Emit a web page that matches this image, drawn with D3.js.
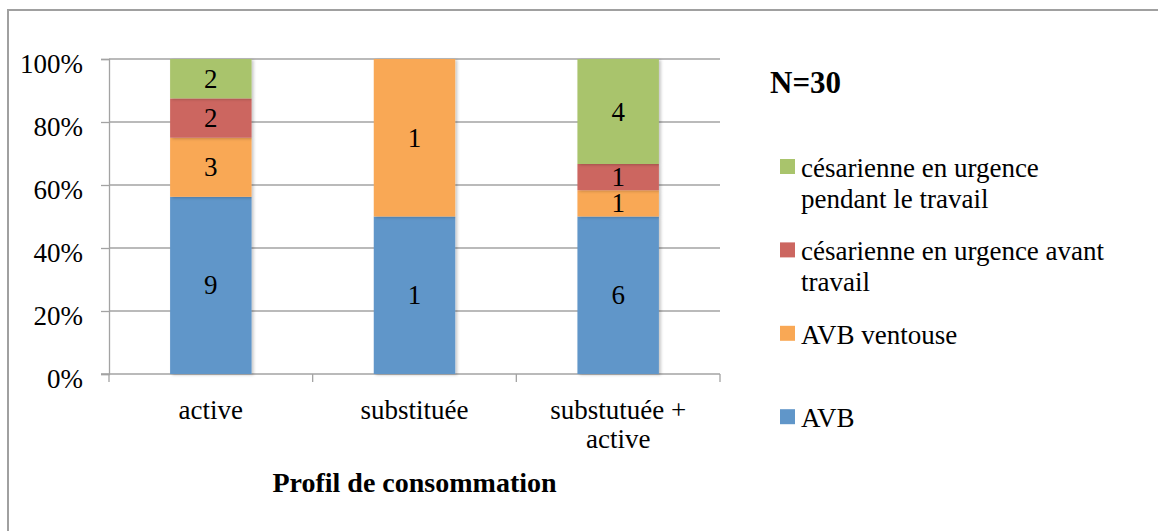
<!DOCTYPE html>
<html>
<head>
<meta charset="utf-8">
<script src="https://cdn.jsdelivr.net/npm/d3@7"></script>
<style>
  body { margin: 0; background: #fff; }
  svg { display: block; font-family: "Liberation Serif", "Times New Roman", serif; }
</style>
</head>
<body>
<div id="chart"></div>
<script>
// categories (x axis), one entry of lines per label
var categories = ["active", "substituée", "substutuée + active"];
var categoryLines = [["active"], ["substituée"], ["substutuée +", "active"]];

// counts per series, same order as categories
var avb        = [9, 1, 6];
var avbVentouse = [3, 1, 1];
var cesAvant   = [2, 0, 1];
var cesPendant = [2, 0, 4];

var seriesKeys = ["AVB", "AVB ventouse", "césarienne en urgence avant travail", "césarienne en urgence pendant le travail"];
var seriesColors = ["#6096c9", "#f9a855", "#cc6660", "#a9c46c"];
// legend text as Excel wrapped it
var legendLines = {
  "AVB": ["AVB"],
  "AVB ventouse": ["AVB ventouse"],
  "césarienne en urgence avant travail": ["césarienne en urgence avant", "travail"],
  "césarienne en urgence pendant le travail": ["césarienne en urgence", "pendant le travail"]
};
var yTicks = [0, 0.2, 0.4, 0.6, 0.8, 1];
var totalLabel = "N=30";
var xTitle = "Profil de consommation";

var W = 1158, H = 531;
var plot = {left: 109, right: 720, top: 59, bottom: 374};
var gridColor = "#a3a3a3";

// build rows for d3.stack
var rows = categories.map(function(c, i) {
  var r = {cat: c};
  r[seriesKeys[0]] = avb[i];
  r[seriesKeys[1]] = avbVentouse[i];
  r[seriesKeys[2]] = cesAvant[i];
  r[seriesKeys[3]] = cesPendant[i];
  return r;
});

var stacked = d3.stack().keys(seriesKeys).offset(d3.stackOffsetExpand)(rows);

var svg = d3.select("#chart").append("svg")
    .attr("width", W)
    .attr("height", H);

var defs = svg.append("defs");
var f = defs.append("filter").attr("id", "shadow")
    .attr("x", "-10%").attr("y", "-10%").attr("width", "130%").attr("height", "130%");
f.append("feDropShadow").attr("dx", 2).attr("dy", 1).attr("stdDeviation", 1.5)
    .attr("flood-color", "#000").attr("flood-opacity", 0.22);

// outer frame (right and bottom fall off the picture)
svg.append("rect")
    .attr("x", 8).attr("y", 10)
    .attr("width", W + 20).attr("height", H + 20)
    .attr("fill", "none").attr("stroke", "#a0a0a0").attr("stroke-width", 2);

var x = d3.scaleBand().domain(categories).range([plot.left, plot.right]).padding(0);
var y = d3.scaleLinear().domain([0, 1]).range([plot.bottom, plot.top]);
var barW = x.bandwidth() * 0.4;

// gridlines
svg.append("g")
  .selectAll("line")
  .data(yTicks.filter(function(d) { return d > 0; }))
  .enter().append("line")
    .attr("x1", plot.left).attr("x2", plot.right)
    .attr("y1", function(d) { return y(d); })
    .attr("y2", function(d) { return y(d); })
    .attr("stroke", gridColor).attr("stroke-width", 1.3);

// y axis
var yAxis = svg.append("g")
    .attr("transform", "translate(" + plot.left + ",0)")
    .call(d3.axisLeft(y).tickValues(yTicks).tickFormat(d3.format(".0%")).tickSize(8).tickPadding(18));
yAxis.select(".domain").attr("stroke", gridColor).attr("stroke-width", 1.3);
yAxis.selectAll(".tick line").attr("stroke", gridColor).attr("stroke-width", 1.3);
yAxis.selectAll(".tick text")
    .attr("fill", "#000")
    .style("font-size", "27px")
    .style("font-family", "Liberation Serif, serif")
    .attr("dy", "0.5em");

// x axis: line plus boundary ticks
var xg = svg.append("g");
xg.append("line")
    .attr("x1", plot.left - 8).attr("x2", plot.right)
    .attr("y1", plot.bottom).attr("y2", plot.bottom)
    .attr("stroke", gridColor).attr("stroke-width", 1.3);
var bounds = categories.map(function(c) { return x(c); }).concat([x(categories[categories.length - 1]) + x.bandwidth()]);
xg.selectAll("line.tk")
  .data(bounds)
  .enter().append("line")
    .attr("class", "tk")
    .attr("x1", function(d) { return d; }).attr("x2", function(d) { return d; })
    .attr("y1", plot.bottom).attr("y2", plot.bottom + 8)
    .attr("stroke", gridColor).attr("stroke-width", 1.3);

var xl = xg.selectAll("text.cat")
  .data(categories)
  .enter().append("text")
    .attr("class", "cat")
    .attr("text-anchor", "middle")
    .attr("y", 419)
    .style("font-size", "27px");
xl.selectAll("tspan")
  .data(function(d, i) { return categoryLines[i].map(function(l) { return {l: l, c: d}; }); })
  .enter().append("tspan")
    .attr("x", function(d) { return x(d.c) + x.bandwidth() / 2; })
    .attr("dy", function(d, i) { return i === 0 ? 0 : 29; })
    .text(function(d) { return d.l; });

// bars
var layer = svg.append("g").selectAll("g.series")
  .data(stacked)
  .enter().append("g")
    .attr("class", "series")
    .attr("fill", function(d, i) { return seriesColors[i]; });

layer.selectAll("rect")
  .data(function(d) { return d; })
  .enter().append("rect")
    .attr("x", function(d) { return x(d.data.cat) + (x.bandwidth() - barW) / 2; })
    .attr("y", function(d) { return y(d[1]); })
    .attr("width", barW)
    .attr("height", function(d) { return y(d[0]) - y(d[1]); })
    .attr("filter", "url(#shadow)");

// value labels
layer.selectAll("text")
  .data(function(d) {
    return d.map(function(p) { return {p: p, v: p.data[d.key]}; })
            .filter(function(o) { return o.v > 0; });
  })
  .enter().append("text")
    .attr("x", function(o) { return x(o.p.data.cat) + x.bandwidth() / 2; })
    .attr("y", function(o) { return (y(o.p[0]) + y(o.p[1])) / 2 + 9; })
    .attr("text-anchor", "middle")
    .attr("fill", "#000")
    .style("font-size", "27px")
    .text(function(o) { return o.v; });

// N label
svg.append("text")
    .attr("x", 770).attr("y", 93)
    .style("font-size", "31px").style("font-weight", "bold")
    .text(totalLabel);

// legend, reversed (top series first)
var legendKeys = seriesKeys.slice().reverse();
var legend = svg.append("g").selectAll("g")
  .data(legendKeys)
  .enter().append("g")
    .attr("transform", function(d, i) { return "translate(780," + (159 + i * 83.4) + ")"; });
legend.append("rect")
    .attr("width", 15).attr("height", 15)
    .attr("fill", function(d) { return seriesColors[seriesKeys.indexOf(d)]; });
var lt = legend.append("text")
    .attr("y", 18)
    .style("font-size", "27px");
lt.selectAll("tspan")
  .data(function(d) { return legendLines[d]; })
  .enter().append("tspan")
    .attr("x", 21)
    .attr("dy", function(d, i) { return i === 0 ? 0 : 31; })
    .text(function(d) { return d; });

// x axis title
svg.append("text")
    .attr("x", (plot.left + plot.right) / 2).attr("y", 492)
    .attr("text-anchor", "middle")
    .style("font-size", "28px").style("font-weight", "bold")
    .text(xTitle);
</script>
</body>
</html>
